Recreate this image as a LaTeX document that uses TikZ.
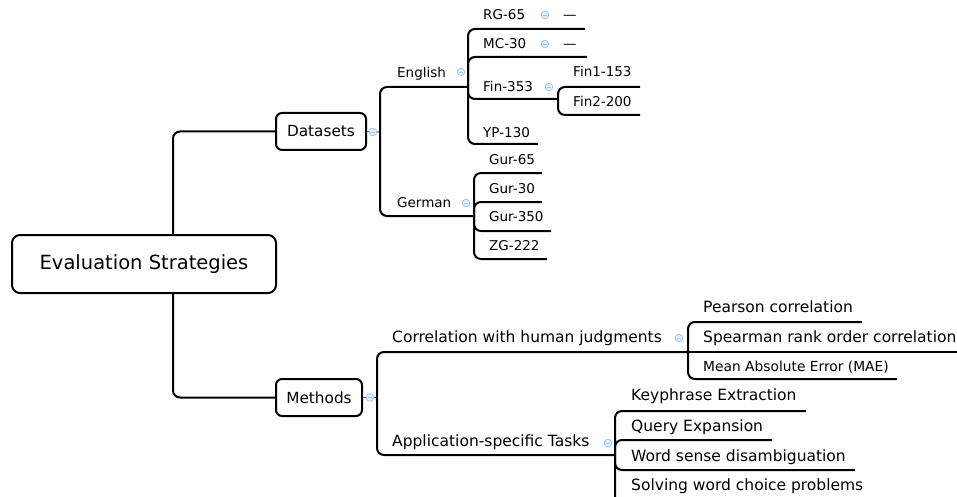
\documentclass[tikz,border=0pt]{standalone}
\usepackage{fontspec}
\setmainfont{DejaVu Sans}
\definecolor{foldc}{RGB}{160,195,235}
\definecolor{foldf}{RGB}{236,243,252}
\begin{document}
\begin{tikzpicture}[x=1pt,y=-1pt,
  conn/.style={line width=2pt, rounded corners=7pt},
  foldln/.style={line width=1pt, black!65},
  rootbox/.style={draw, line width=2pt, rounded corners=8pt, fill=white,
    minimum width=264pt, minimum height=58pt, font=\fontsize{19.5}{23}\selectfont},
  catbox/.style={draw, line width=2pt, rounded corners=6pt, fill=white,
    minimum height=37pt, font=\fontsize{15.3}{18}\selectfont},
  lA/.style={anchor=west, inner sep=0pt, text height=9.8pt, text depth=0pt,
    font=\fontsize{13.5}{16}\selectfont},
  lB/.style={anchor=west, inner sep=0pt, text height=11.3pt, text depth=0pt,
    font=\fontsize{15.5}{18}\selectfont},
  lC/.style={anchor=west, inner sep=0pt, text height=10.1pt, text depth=0pt,
    font=\fontsize{13.8}{16}\selectfont},
  fold/.style={circle, draw=foldc, fill=foldf, line width=0.8pt, minimum size=7.5pt,
    inner sep=0pt, path picture={\draw[foldc, line width=0.8pt]
      ([xshift=-2pt]path picture bounding box.center) -- ([xshift=2pt]path picture bounding box.center);}}
]
\useasboundingbox (0,0) rectangle (957,497);
\clip (0,0) rectangle (957,497);

% ---------- main nodes
\node[rootbox] (root) at (144,264) {Evaluation Strategies};
\node[catbox, minimum width=90pt] (ds) at (321,131.5) {Datasets};
\node[catbox, minimum width=86pt] (meth) at (319,397.5) {Methods};

% ---------- junctions
\coordinate (dsj) at (380,132);
\coordinate (engj) at (468,87);
\coordinate (gerj) at (474,216);
\coordinate (finj) at (558,99);
\coordinate (mj) at (377,397.5);
\coordinate (corrj) at (688,352);
\coordinate (taskj) at (615,455);

% ---------- underline ends
\coordinate (rgu) at (585,29);
\coordinate (mcu) at (587,57);
\coordinate (ypu) at (538,144);
\coordinate (f1u) at (640,87);
\coordinate (f2u) at (640,115);
\coordinate (g65u) at (542,173);
\coordinate (g30u) at (542,202);
\coordinate (g350u) at (551,231);
\coordinate (zgu) at (547,259);
\coordinate (pearu) at (862,322);
\coordinate (spearu) at (970,352);
\coordinate (maeu) at (897,379);
\coordinate (keyu) at (806,411);
\coordinate (queryu) at (772,440);
\coordinate (wordu) at (855,470);
\coordinate (solvu) at (875,503);

% ---------- connectors
\draw[conn] ([xshift=29pt]root.north) |- (ds.west);
\draw[conn] ([xshift=29pt]root.south) |- (meth.west);

\draw[foldln] (ds.east) -- (dsj);
\draw[foldln] (meth.east) -- (mj);

\draw[conn] (dsj) |- (engj);
\draw[conn] (dsj) |- (gerj);

\draw[conn] (engj) |- (rgu);
\draw[conn] (engj) |- (mcu);
\draw[conn] (engj) |- (finj);
\draw[conn] (engj) |- (ypu);
\draw[conn] (finj) |- (f1u);
\draw[conn] (finj) |- (f2u);

\draw[conn] (gerj) |- (g65u);
\draw[conn] (gerj) |- (g30u);
\draw[conn] (gerj) |- (g350u);
\draw[conn] (gerj) |- (zgu);

\draw[conn] (mj) |- (corrj);
\draw[conn] (mj) |- (taskj);
\draw[conn] (corrj) |- (pearu);
\draw[conn] (corrj) -- (spearu);
\draw[conn] (corrj) |- (maeu);
\draw[conn] (taskj) |- (keyu);
\draw[conn] (taskj) |- (queryu);
\draw[conn] (taskj) |- (wordu);
\draw[conn] (taskj) |- (solvu);

% ---------- fold indicators
\node[fold] (dsf) at (373,132) {};
\node[fold] (methf) at (370,397.5) {};
\node[fold] (engf) at (461,72) {};
\node[fold] (gerf) at (466,203) {};
\node[fold] (rgf) at (545,15) {};
\node[fold] (mcf) at (545,44) {};
\node[fold] (finf) at (549,87) {};
\node[fold] (corrf) at (679,338) {};
\node[fold] (taskf) at (608,443) {};

% ---------- Datasets branch labels
\node[lA] (eng) at (397,73) {English};
\node[lA] (ger) at (397,203) {German};
\node[lA] (rg) at (483,15) {RG-65};
\node[lA] (rgd) at (563,15) {—};
\node[lA] (mc) at (483,44) {MC-30};
\node[lA] (mcd) at (563,44) {—};
\node[lA] (fin) at (483,87) {Fin-353};
\node[lA] (yp) at (483,133) {YP-130};
\node[lA] (f1) at (573,72) {Fin1-153};
\node[lA] (f2) at (573,102) {Fin2-200};
\node[lA] (g65) at (489,160) {Gur-65};
\node[lA] (g30) at (489,189) {Gur-30};
\node[lA] (g350) at (489,217) {Gur-350};
\node[lA] (zg) at (489,246) {ZG-222};

% ---------- Methods branch labels
\node[lB] (corr) at (392,337) {Correlation with human judgments};
\node[lB] (task) at (392,441) {Application-specific Tasks};
\node[lB] (pear) at (703,307) {Pearson correlation};
\node[lB] (spear) at (703,337) {Spearman rank order correlation};
\node[lC] (mae) at (703,366) {Mean Absolute Error (MAE)};
\node[lB] (key) at (631,395) {Keyphrase Extraction};
\node[lB] (query) at (631,426) {Query Expansion};
\node[lB] (word) at (631,456) {Word sense disambiguation};
\node[lB] (solv) at (631,485) {Solving word choice problems};
\end{tikzpicture}
\end{document}
